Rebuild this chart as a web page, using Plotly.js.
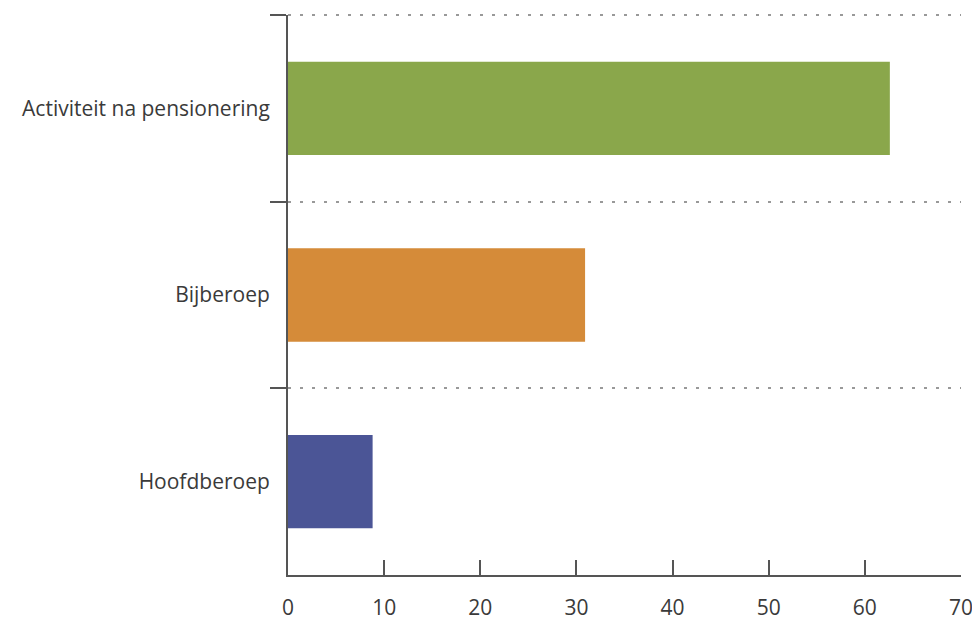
<!DOCTYPE html>
<html>
<head>
<meta charset="utf-8">
<script src="https://cdn.plot.ly/plotly-3.0.1.min.js"></script>
<style>html,body{margin:0;padding:0;background:#fff;}#chart{width:972px;height:624px;}</style>
</head>
<body>
<div id="chart"></div>
<script>
var categories = ["Activiteit na pensionering", "Bijberoep", "Hoofdberoep"];
var values = [62.6, 30.9, 8.8];
var barColors = ["#8aa74b", "#d58b39", "#4b5596"];
var xTicks = [0, 10, 20, 30, 40, 50, 60, 70];

var trace = {
  type: "bar",
  orientation: "h",
  y: categories,
  x: values,
  width: 0.5,
  marker: {color: barColors},
  hoverinfo: "skip"
};

var layout = {
  width: 972,
  height: 624,
  margin: {l: 288, r: 11, t: 15, b: 49},
  paper_bgcolor: "#fff",
  plot_bgcolor: "#fff",
  showlegend: false,
  font: {family: "Open Sans, Noto Sans, sans-serif", size: 21, color: "#3a3a3a"},
  xaxis: {
    range: [0, 70],
    tickvals: xTicks,
    ticktext: xTicks.map(String),
    ticks: "inside",
    ticklen: 15,
    tickwidth: 2,
    tickcolor: "#555",
    showline: true,
    linecolor: "#555",
    linewidth: 2,
    showgrid: false,
    zeroline: false,
    ticklabelstandoff: 13,
    ticklabeloverflow: "allow",
    tickfont: {size: 21},
    fixedrange: true
  },
  yaxis: {
    type: "category",
    autorange: "reversed",
    tickson: "boundaries",
    ticks: "outside",
    ticklen: 16,
    tickwidth: 2,
    tickcolor: "#555",
    showline: true,
    linecolor: "#555",
    linewidth: 2,
    showgrid: true,
    gridcolor: "#999",
    gridwidth: 2,
    griddash: "3px,9px",
    zeroline: false,
    ticklabelstandoff: 12,
    ticklabeloverflow: "allow",
    tickfont: {size: 21},
    fixedrange: true
  },
  shapes: [{
    type: "line", xref: "paper", yref: "paper",
    x0: 0, x1: 1, y0: 1, y1: 1,
    line: {color: "#999", width: 2, dash: "3px,9px"}
  }]
};

Plotly.newPlot("chart", [trace], layout, {staticPlot: true});
</script>
</body>
</html>
